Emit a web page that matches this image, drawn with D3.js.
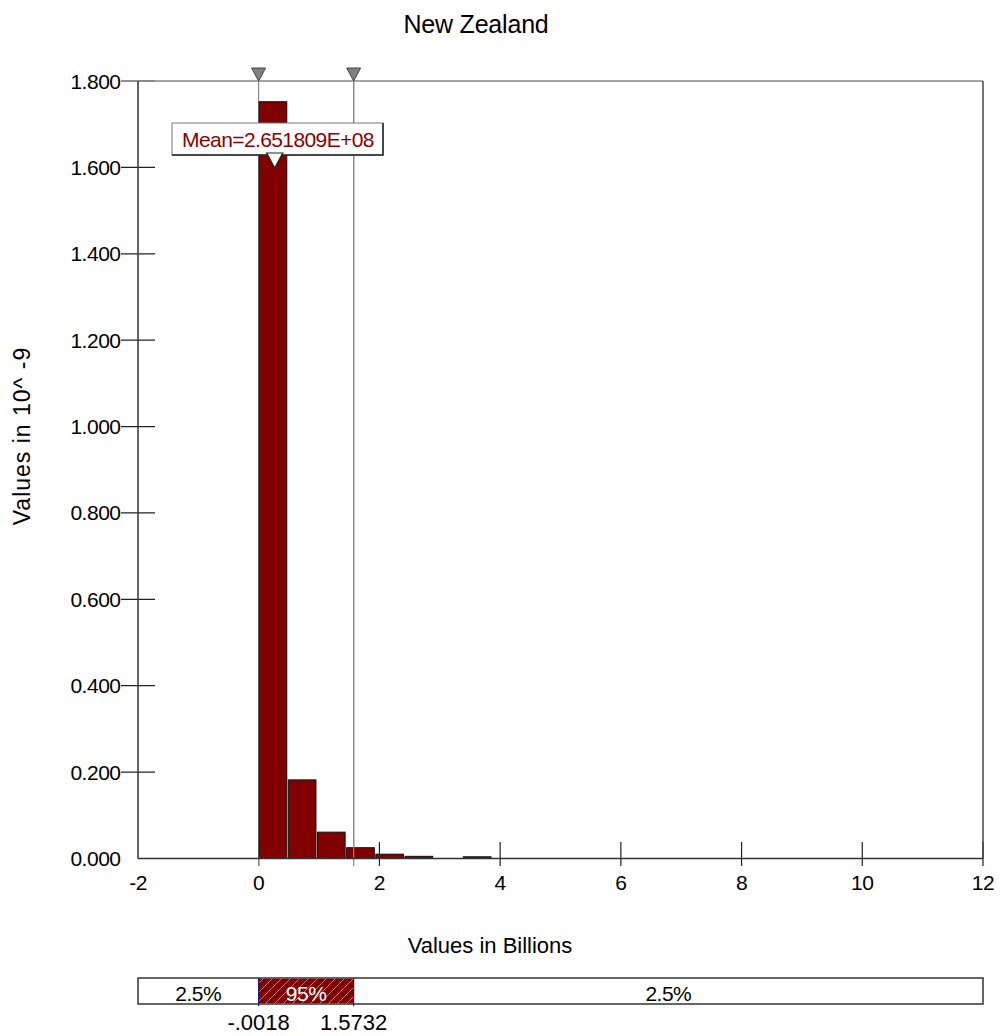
<!DOCTYPE html>
<html>
<head>
<meta charset="utf-8">
<script src="https://cdn.jsdelivr.net/npm/d3@7"></script>
<style>
  html, body { margin: 0; padding: 0; background: #fff; }
  svg { display: block; font-family: "Liberation Sans", Arial, sans-serif; }
</style>
</head>
<body>
<script>
// ---- data ----
const title = "New Zealand";
const xAxisTitle = "Values in Billions";
const yAxisTitle = "Values in 10^ -9";
const binEdges = [-0.0018, 0.4816, 0.9650, 1.4484, 1.9318, 2.4152, 2.8986, 3.3820, 3.8654];
const density = [1.752, 0.182, 0.061, 0.025, 0.010, 0.005, 0, 0.004];
const xTicks = [-2, 0, 2, 4, 6, 8, 10, 12];
const yTicks = [0, 0.2, 0.4, 0.6, 0.8, 1.0, 1.2, 1.4, 1.6, 1.8];
const meanValue = 0.2651809;
const meanLabel = "Mean=2.651809E+08";
const cutoffs = [-0.0018, 1.5732];
const cutoffLabels = ["-.0018", "1.5732"];
const bandLabels = ["2.5%", "95%", "2.5%"];

// ---- layout ----
const W = 1003, H = 1036;
const L = 138, R = 983, T = 81, B = 858.5;
const svg = d3.select("body").append("svg").attr("width", W).attr("height", H);

const defs = svg.append("defs");
const pat = defs.append("pattern").attr("id", "hatch").attr("patternUnits", "userSpaceOnUse")
  .attr("width", 9).attr("height", 9);
pat.append("rect").attr("width", 9).attr("height", 9).attr("fill", "#800000");
pat.append("path").attr("d", "M-1,10 L10,-1 M-2,2 L2,-2 M7,11 L11,7").attr("stroke", "#b08080").attr("stroke-width", 1);

const x = d3.scaleLinear().domain([-2, 12]).range([L, R]);
const y = d3.scaleLinear().domain([0, 1.8]).range([B, T]);

// title
svg.append("text").attr("x", 476).attr("y", 33).attr("text-anchor", "middle")
  .attr("font-size", 25).attr("fill", "#000").attr("letter-spacing", -0.2).text(title);

// y ticks
const fmt = d3.format(".3f");
yTicks.forEach(v => {
  if (v > 0) {
    svg.append("line").attr("x1", 121).attr("x2", 155).attr("y1", y(v)).attr("y2", y(v))
      .attr("stroke", "#222").attr("stroke-width", 1.2);
  }
  svg.append("text").attr("x", 120.5).attr("y", y(v) + 7.5).attr("text-anchor", "end")
    .attr("font-size", 21).attr("letter-spacing", -0.5).attr("fill", "#000").text(fmt(v));
});

// x ticks
xTicks.forEach(v => {
  if (v > -2) {
    svg.append("line").attr("x1", x(v)).attr("x2", x(v)).attr("y1", 842).attr("y2", 866)
      .attr("stroke", "#222").attr("stroke-width", 1.2);
  }
  svg.append("text").attr("x", x(v)).attr("y", 890).attr("text-anchor", "middle")
    .attr("font-size", 21).attr("letter-spacing", -0.5).attr("fill", "#000").text(v);
});

// frame
svg.append("line").attr("x1", L).attr("x2", R).attr("y1", T).attr("y2", T).attr("stroke", "#888").attr("stroke-width", 1.5);
svg.append("line").attr("x1", R).attr("x2", R).attr("y1", T).attr("y2", B).attr("stroke", "#444").attr("stroke-width", 1.5);

// marker lines
cutoffs.forEach(c => {
  svg.append("line").attr("x1", x(c)).attr("x2", x(c)).attr("y1", T).attr("y2", 866)
    .attr("stroke", "#888").attr("stroke-width", 1.2);
});

// bars
svg.append("g").selectAll("rect").data(density.map((d, i) => ({ d, i })).filter(o => o.d > 0))
  .join("rect")
  .attr("x", o => x(binEdges[o.i]) + 0.5)
  .attr("width", o => x(binEdges[o.i + 1]) - x(binEdges[o.i]) - 1.5)
  .attr("y", o => y(o.d))
  .attr("height", o => y(0) - y(o.d))
  .attr("fill", "#800000").attr("stroke", "#111").attr("stroke-width", 1);

// redraw right marker line over bars
svg.append("line").attr("x1", x(cutoffs[1])).attr("x2", x(cutoffs[1])).attr("y1", T).attr("y2", B)
  .attr("stroke", "#888").attr("stroke-width", 1.2);

// axes lines left & bottom
svg.append("line").attr("x1", L).attr("x2", L).attr("y1", T).attr("y2", B).attr("stroke", "#333").attr("stroke-width", 1.5);
svg.append("line").attr("x1", L).attr("x2", R).attr("y1", B).attr("y2", B).attr("stroke", "#333").attr("stroke-width", 1.5);

// top triangles
cutoffs.forEach(c => {
  const cx = x(c);
  svg.append("path").attr("d", `M${cx - 7},68 L${cx + 7},68 L${cx},81 Z`)
    .attr("fill", "#808080").attr("stroke", "#444").attr("stroke-width", 1);
});

// mean label
const mx = x(meanValue);
svg.append("rect").attr("x", 172).attr("y", 123).attr("width", 211).attr("height", 32)
  .attr("fill", "#fff").attr("stroke", "#777").attr("stroke-width", 1);
svg.append("path").attr("d", `M383,123 L383,155 L172,155`).attr("fill", "none").attr("stroke", "#222").attr("stroke-width", 1.5);
svg.append("text").attr("x", 278).attr("y", 147).attr("text-anchor", "middle")
  .attr("font-size", 21).attr("fill", "#8b0000").attr("letter-spacing", -0.6).text(meanLabel);
svg.append("path").attr("d", `M${mx - 8},153 L${mx + 8},153 L${mx},168 Z`)
  .attr("fill", "#fff").attr("stroke", "#222").attr("stroke-width", 1.2);

// y axis title
svg.append("text").attr("transform", "translate(30,436) rotate(-90)").attr("text-anchor", "middle")
  .attr("font-size", 23).attr("fill", "#000").attr("letter-spacing", 1).text(yAxisTitle);

// x axis title
svg.append("text").attr("x", 490).attr("y", 953).attr("text-anchor", "middle")
  .attr("font-size", 22).attr("fill", "#000").text(xAxisTitle);

// bottom band
const bT = 978, bB = 1004;
svg.append("rect").attr("x", L).attr("y", bT).attr("width", R - L).attr("height", bB - bT)
  .attr("fill", "#fff").attr("stroke", "#333").attr("stroke-width", 1.5);
svg.append("rect").attr("x", x(cutoffs[0])).attr("y", bT + 0.75).attr("width", x(cutoffs[1]) - x(cutoffs[0]))
  .attr("height", bB - bT - 1.5).attr("fill", "url(#hatch)");
cutoffs.forEach(c => {
  svg.append("line").attr("x1", x(c)).attr("x2", x(c)).attr("y1", bT).attr("y2", 1006)
    .attr("stroke", "#1a1a80").attr("stroke-width", 1.2);
});
const segs = [[-2, cutoffs[0]], [cutoffs[0], cutoffs[1]], [cutoffs[1], 12]];
segs.forEach((s, i) => {
  svg.append("text").attr("x", (x(s[0]) + x(s[1])) / 2).attr("y", 1001).attr("text-anchor", "middle")
    .attr("font-size", 21).attr("letter-spacing", -0.5).attr("fill", i === 1 ? "#fff" : "#000").text(bandLabels[i]);
});
cutoffs.forEach((c, i) => {
  svg.append("text").attr("x", x(c)).attr("y", 1030).attr("text-anchor", "middle")
    .attr("font-size", 22).attr("fill", "#000").text(cutoffLabels[i]);
});
</script>
</body>
</html>
